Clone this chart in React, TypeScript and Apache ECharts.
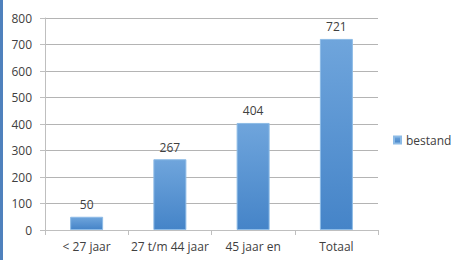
import React, { useEffect, useRef } from "react";
import * as echarts from "echarts";

const categories = ["< 27 jaar", "27 t/m 44 jaar", "45 jaar en", "Totaal"];
const bestand = [50, 267, 404, 721];
const seriesName = "bestand";

export default function App() {
  const ref = useRef<HTMLDivElement>(null);
  useEffect(() => {
    document.body.style.margin = "0";
    const chart = echarts.init(ref.current!, null, { renderer: "svg" });
    const font = "'Open Sans', sans-serif";
    chart.setOption({
      animation: false,
      backgroundColor: "#ffffff",
      textStyle: { fontFamily: font },
      grid: { left: 45, right: 80, top: 18, bottom: 30 },
      legend: {
        data: [seriesName],
        left: 393,
        top: 134,
        padding: 0,
        itemWidth: 7,
        itemHeight: 7,
        icon: "rect",
        textStyle: { fontFamily: font, fontSize: 12, color: "#404040" },
      },
      graphic: [
        { type: "rect", left: 0, top: 0, shape: { width: 3, height: 260 }, style: { fill: "#4f81bd" } },
      ],
      xAxis: {
        type: "category",
        data: categories,
        axisLine: { show: true, lineStyle: { color: "#bfbfbf" } },
        axisTick: { show: true, length: 5, alignWithLabel: false, lineStyle: { color: "#bfbfbf" } },
        axisLabel: { color: "#404040", fontSize: 12, fontFamily: font, margin: 10, interval: 0 },
      },
      yAxis: {
        type: "value",
        min: 0,
        max: 800,
        interval: 100,
        axisLine: { show: true, lineStyle: { color: "#bfbfbf" } },
        axisTick: { show: true, length: 5, lineStyle: { color: "#bfbfbf" } },
        splitLine: { show: true, lineStyle: { color: "#b4b4b4" } },
        axisLabel: { color: "#404040", fontSize: 12, fontFamily: font, margin: 13 },
      },
      series: [
        {
          name: seriesName,
          type: "bar",
          data: bestand,
          barWidth: 33,
          itemStyle: {
            color: new echarts.graphic.LinearGradient(0, 0, 0, 1, [
              { offset: 0, color: "#6fa5dc" },
              { offset: 1, color: "#4584c8" },
            ]),
            borderColor: "#8dbbe6",
            borderWidth: 1,
          },
          label: {
            show: true,
            position: "top",
            distance: 6,
            color: "#404040",
            fontSize: 12,
            fontFamily: font,
          },
        },
      ],
    });
    return () => chart.dispose();
  }, []);
  return <div ref={ref} style={{ width: 458, height: 260 }} />;
}
